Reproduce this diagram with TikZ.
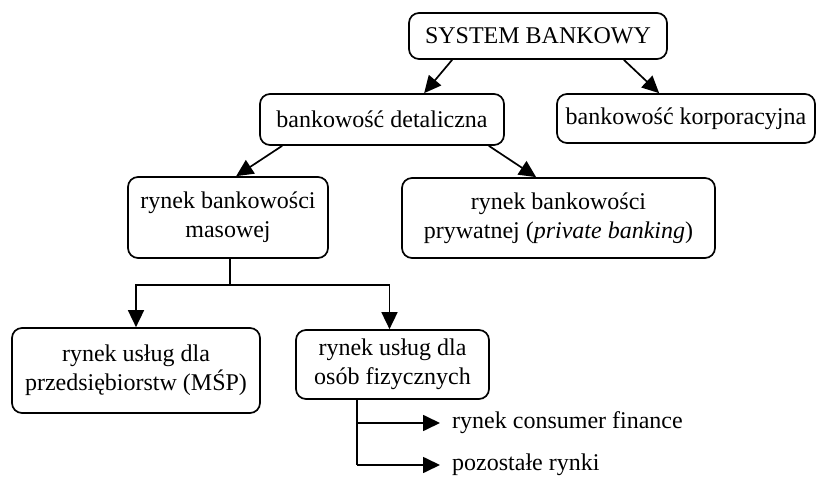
\documentclass[tikz,border=0pt]{standalone}
\usepackage{fontspec}
\setmainfont{Liberation Serif}
\usetikzlibrary{arrows.meta}
\tikzset{
  box/.style={draw, line width=1.7pt, rounded corners=10pt, align=center, inner sep=0pt,
    font=\fontsize{24}{29}\selectfont},
  conn/.style={line width=1.7pt, -{Triangle[length=17pt,width=16pt]}},
  plain/.style={line width=1.7pt},
  lbl/.style={anchor=west, inner sep=0pt, font=\fontsize{24}{29}\selectfont}
}
\begin{document}
\begin{tikzpicture}[x=1pt,y=-1pt]
\useasboundingbox (0,0) rectangle (817,478);
\node[box, minimum width=258pt, minimum height=46pt] (sys) at (538,36) {SYSTEM BANKOWY};
\node[box, minimum width=244pt, minimum height=51pt] (det) at (382,119.5) {bankowość detaliczna};
\node[box, minimum width=258pt, minimum height=49pt] (kor) at (686,118.5) {bankowość korporacyjna};
\node[box, minimum width=200pt, minimum height=81pt] (mas) at (228,217.5) {rynek bankowości\\masowej};
\node[box, minimum width=313pt, minimum height=80pt] (pry) at (558.5,218) {rynek bankowości\\prywatnej (\textit{private banking})};
\node[box, minimum width=248pt, minimum height=85pt] (msp) at (136,370.5) {rynek usług dla\\przedsiębiorstw (MŚP)};
\node[box, minimum width=193pt, minimum height=69pt] (osf) at (392.5,364.5) {rynek usług dla\\osób fizycznych};
\node[lbl] (cf) at (452,423) {rynek consumer finance};
\node[lbl] (pr) at (452,465) {pozostałe rynki};
\coordinate (split) at (230,285);
\coordinate (osbr) at (357,423);
\coordinate (osend) at (357,465);
% connectors
\draw[conn] ([xshift=44pt]sys.south west) -- ([xshift=165pt]det.north west);
\draw[conn] ([xshift=-44pt]sys.south east) -- ([xshift=103pt]kor.north west);
\draw[conn] ([xshift=23pt]det.south west) -- ([xshift=109pt]mas.north west);
\draw[conn] ([xshift=-16pt]det.south east) -- ([xshift=135pt]pry.north west);
\draw[plain] (mas.south -| split) -- (split);
\draw[conn] (split) -| (msp.north);
\draw[conn] (split) -| ([xshift=-3pt]osf.north);
\draw[plain] (osf.south -| osend) -- (osend);
\draw[conn] (osbr) -- ([xshift=-12pt]cf.west);
\draw[conn] (osend) -- ([xshift=-12pt]pr.west);
\end{tikzpicture}
\end{document}
